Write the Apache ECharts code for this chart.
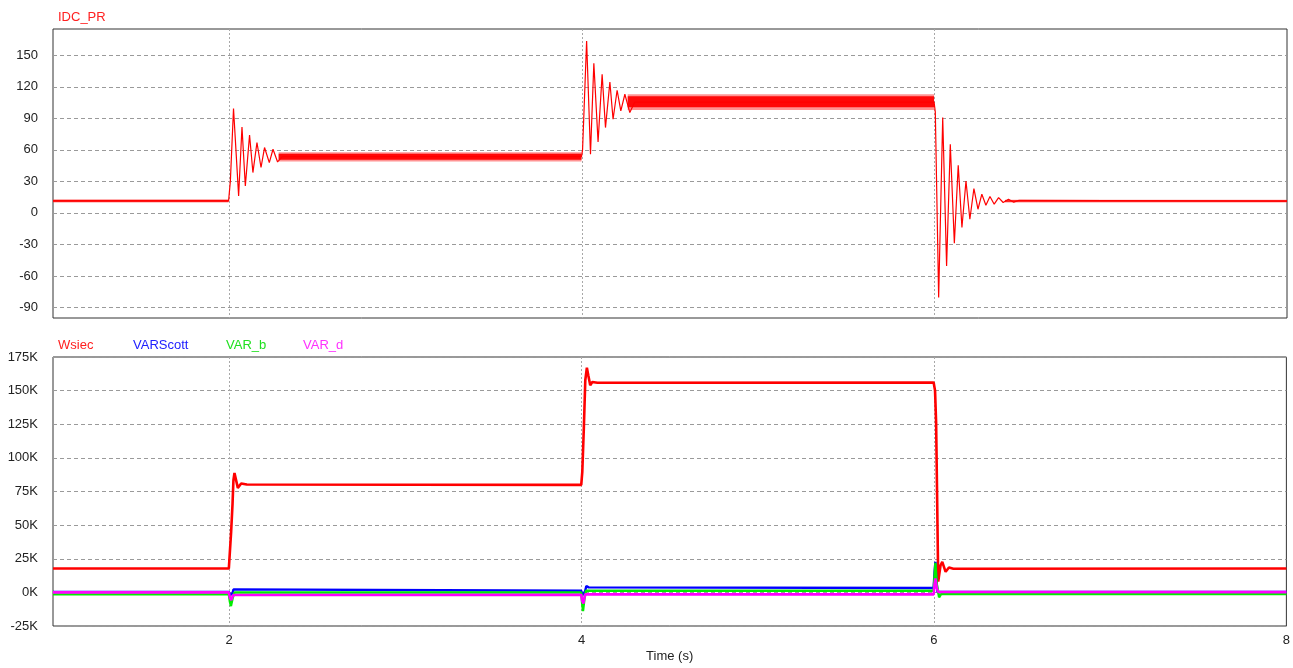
<!DOCTYPE html>
<html>
<head>
<meta charset="utf-8">
<script src="https://cdn.jsdelivr.net/npm/echarts@6/dist/echarts.min.js"></script>
<style>
html,body{margin:0;padding:0;background:#fff;}
#chart{width:1293px;height:668px;}
</style>
</head>
<body>
<div id="chart"></div>
<script>
// ---------- data ----------
const timeTicks = [2, 4, 6, 8];
const timeGridLines = [2, 4, 6];
const idcTicks = [-90, -60, -30, 0, 30, 60, 90, 120, 150];

// IDC_PR (top panel) – transient trace
const idcT = [1.0, 1.996, 2.006, 2.024, 2.053, 2.072, 2.091, 2.115, 2.134, 2.157, 2.180, 2.200, 2.227, 2.248, 2.274, 2.30,
  3.998, 4.004, 4.027, 4.049, 4.068, 4.092, 4.115, 4.134, 4.159, 4.177, 4.200, 4.221, 4.244, 4.272, 4.30,
  5.998, 6.005, 6.024, 6.047, 6.069, 6.090, 6.113, 6.135, 6.156, 6.179, 6.201, 6.224, 6.247, 6.269, 6.292, 6.315, 6.339, 6.364, 6.390, 6.42, 6.45, 6.48, 8.0];
const idcV = [11.5, 11.5, 30, 99.3, 16.2, 81.8, 25.7, 74.2, 38.4, 67.0, 43.2, 62.2, 47.9, 60.6, 48.5, 53.5,
  53.5, 60, 163.6, 55.8, 142.4, 67.5, 131.9, 81.2, 124.6, 89.1, 116.7, 97.0, 112.9, 95.5, 105.5,
  105.5, 96, -80.5, 90.7, -50.4, 65.3, -28.8, 45.4, -13.9, 30.4, -6.0, 23.2, 3.5, 17.8, 7.3, 15.6, 8.3, 14.6, 9.9, 13.0, 10.2, 12.0, 11.3];

// IDC_PR ripple envelopes (start time, end time, lower, upper): outer spikes and dense core
const rippleStart = [1.0, 2.28, 4.26, 6.40];
const rippleEnd   = [1.996, 3.998, 5.998, 8.0];
const outerLow    = [10.0, 48.8, 98.0, 10.0];
const outerHigh   = [13.0, 57.8, 113.0, 12.6];
const coreLow     = [10.6, 50.6, 100.5, 10.5];
const coreHigh    = [12.4, 56.2, 111.0, 12.0];

// Bottom panel (values in K)
const wsiecT = [1.0, 1.998, 2.002, 2.011, 2.019, 2.024, 2.030, 2.049, 2.068, 2.10, 3.998, 4.004, 4.013, 4.021, 4.030, 4.038, 4.049, 4.061, 4.09, 5.998, 6.003, 6.006, 6.012, 6.017, 6.024, 6.037, 6.047, 6.066, 6.085, 6.11, 8.0];
const wsiecV = [17.8, 17.8, 19, 45, 66, 83.4, 88.8, 77.7, 81.0, 80.2, 79.9, 89.6, 123, 157.7, 167.1, 161.4, 154.0, 156.4, 155.8, 156.0, 155, 150, 126.7, 78.4, 8.0, 20.0, 22.7, 15.3, 18.5, 17.6, 17.8];

const scottT = [1.0, 1.998, 2.006, 2.018, 2.024, 2.035, 3.998, 4.006, 4.020, 4.027, 4.040, 5.998, 6.003, 6.008, 6.014, 6.020, 8.0];
const scottV = [0.3, 0.3, -2.0, -1.0, 2.2, 1.2, 1.2, -2.0, 1.0, 4.7, 3.7, 3.2, 15.0, 22.7, 8.0, 0.3, 0.3];

const varBT = [1.0, 1.998, 2.004, 2.010, 2.020, 2.030, 3.998, 4.003, 4.008, 4.016, 4.025, 5.998, 6.003, 6.008, 6.016, 6.029, 6.040, 8.0];
const varBV = [-1.5, -1.5, -7.0, -10.2, -4.0, -0.1, -0.1, -8.0, -14.0, -5.0, 1.2, 1.2, 12.0, 22.0, 6.0, -3.7, -1.3, -1.3];

const varDT = [1.0, 1.998, 2.004, 2.012, 2.022, 2.030, 3.998, 4.003, 4.010, 4.020, 5.998, 6.003, 6.008, 6.016, 6.024, 8.0];
const varDV = [0.0, 0.0, -4.0, -5.7, -2.0, -1.8, -1.8, -6.0, -8.2, -1.5, -1.5, 6.0, 10.4, 3.0, 0.4, 0.2];

// ---------- build ----------
const zip = (t, v, k) => t.map((x, i) => [x, v[i] * (k || 1)]);
const bandData = (lo, hi) => rippleStart.map((s, i) => [s, rippleEnd[i], lo[i], hi[i]]);

const FONT = '"Liberation Sans", Arial, sans-serif';
const gridLineStyle = { color: '#9a9a9a', type: [4, 3], width: 1 };
const vLineStyle = { color: '#a8a8a8', type: [2, 2], width: 1 };
const labelStyle = { color: '#222', fontSize: 13, fontFamily: FONT };

function bandSeries(name, lo, hi, fill) {
  return {
    name: name, type: 'custom', xAxisIndex: 0, yAxisIndex: 0,
    data: bandData(lo, hi),
    encode: { x: [0, 1], y: [2, 3] },
    renderItem: function (params, api) {
      const p1 = api.coord([api.value(0), api.value(3)]);
      const p2 = api.coord([api.value(1), api.value(2)]);
      return {
        type: 'rect',
        shape: { x: p1[0], y: p1[1], width: p2[0] - p1[0], height: p2[1] - p1[1] },
        style: { fill: fill }
      };
    },
    silent: true
  };
}

const chart = echarts.init(document.getElementById('chart'), null, { renderer: 'canvas' });
chart.setOption({
  animation: false,
  backgroundColor: '#fff',
  textStyle: { fontFamily: FONT },
  title: [
    { text: 'IDC_PR', left: 53, top: 6, textStyle: { color: '#ff2020', fontSize: 13, fontWeight: 'normal', fontFamily: FONT } },
    { text: 'Wsiec', left: 53, top: 334, textStyle: { color: '#ff2020', fontSize: 13, fontWeight: 'normal', fontFamily: FONT } },
    { text: 'VARScott', left: 128, top: 334, textStyle: { color: '#2020ff', fontSize: 13, fontWeight: 'normal', fontFamily: FONT } },
    { text: 'VAR_b', left: 221, top: 334, textStyle: { color: '#20e020', fontSize: 13, fontWeight: 'normal', fontFamily: FONT } },
    { text: 'VAR_d', left: 298, top: 334, textStyle: { color: '#ff30ff', fontSize: 13, fontWeight: 'normal', fontFamily: FONT } }
  ],
  grid: [
    { left: 53, right: 6, top: 29, height: 289, show: true, borderColor: '#333', borderWidth: 1, backgroundColor: '#fff' },
    { left: 53, right: 6, top: 357, height: 269, show: true, borderColor: '#333', borderWidth: 1, backgroundColor: '#fff' }
  ],
  xAxis: [
    {
      type: 'value', gridIndex: 0, min: 1, max: 8,
      axisLine: { show: false },
      axisTick: { show: false, customValues: timeGridLines },
      axisLabel: { show: false },
      splitLine: { show: true, lineStyle: vLineStyle }
    },
    {
      type: 'value', gridIndex: 1, min: 1, max: 8,
      name: 'Time (s)', nameLocation: 'middle', nameGap: 24,
      nameTextStyle: { color: '#222', fontSize: 13, fontFamily: FONT },
      axisLine: { show: false },
      axisTick: { show: false, customValues: timeGridLines },
      axisLabel: Object.assign({ customValues: timeTicks, margin: 8 }, labelStyle),
      splitLine: { show: true, lineStyle: vLineStyle }
    }
  ],
  yAxis: [
    {
      type: 'value', gridIndex: 0, min: -100, max: 175,
      axisLine: { show: false },
      axisTick: { show: false, customValues: idcTicks },
      axisLabel: Object.assign({ customValues: idcTicks, margin: 15 }, labelStyle),
      splitLine: { show: true, lineStyle: gridLineStyle }
    },
    {
      type: 'value', gridIndex: 1, min: -25000, max: 175000, interval: 25000,
      axisLine: { show: false },
      axisTick: { show: false },
      axisLabel: Object.assign({ margin: 15, formatter: v => (v / 1000) + 'K' }, labelStyle),
      splitLine: { show: true, lineStyle: gridLineStyle }
    }
  ],
  series: [
    bandSeries('IDC_PR ripple outer', outerLow, outerHigh, 'rgba(255,60,60,0.55)'),
    bandSeries('IDC_PR ripple core', coreLow, coreHigh, 'rgba(255,0,0,0.95)'),
    {
      name: 'IDC_PR', type: 'line', xAxisIndex: 0, yAxisIndex: 0,
      data: zip(idcT, idcV), showSymbol: false,
      lineStyle: { color: '#ff0000', width: 1.2 }, itemStyle: { color: '#ff0000' }
    },
    {
      name: 'Wsiec', type: 'line', xAxisIndex: 1, yAxisIndex: 1,
      data: zip(wsiecT, wsiecV, 1000), showSymbol: false,
      lineStyle: { color: '#ff0000', width: 2.6 }, itemStyle: { color: '#ff0000' }
    },
    {
      name: 'VARScott', type: 'line', xAxisIndex: 1, yAxisIndex: 1,
      data: zip(scottT, scottV, 1000), showSymbol: false,
      lineStyle: { color: '#0000ff', width: 2.4 }, itemStyle: { color: '#0000ff' }
    },
    {
      name: 'VAR_b', type: 'line', xAxisIndex: 1, yAxisIndex: 1,
      data: zip(varBT, varBV, 1000), showSymbol: false,
      lineStyle: { color: '#00ee00', width: 2.4 }, itemStyle: { color: '#00ee00' }
    },
    {
      name: 'VAR_d', type: 'line', xAxisIndex: 1, yAxisIndex: 1,
      data: zip(varDT, varDV, 1000), showSymbol: false,
      lineStyle: { color: '#ff00ff', width: 2.6 }, itemStyle: { color: '#ff00ff' }
    }
  ]
});
</script>
</body>
</html>
